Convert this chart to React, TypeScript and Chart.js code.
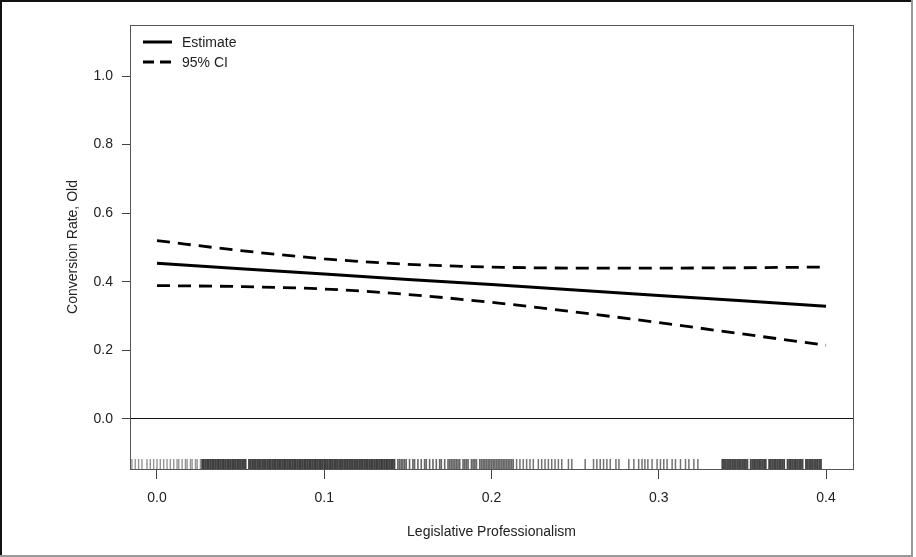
import React, { useEffect, useRef } from "react";
import { Chart, registerables } from "chart.js";

Chart.register(...registerables);

// ---- data ----
const xGrid = [0, 0.05, 0.1, 0.15, 0.2, 0.25, 0.3, 0.35, 0.4];
const estimate = [0.454, 0.438, 0.423, 0.407, 0.392, 0.376, 0.36, 0.345, 0.329];
const upperCI = [0.52, 0.491, 0.467, 0.451, 0.443, 0.44, 0.44, 0.441, 0.443];
const lowerCI = [0.389, 0.386, 0.379, 0.363, 0.34, 0.312, 0.281, 0.248, 0.215];

const xTicks = [0, 0.1, 0.2, 0.3, 0.4];
const yTicks = [0, 0.2, 0.4, 0.6, 0.8, 1.0];

const legendLabels = ["Estimate", "95% CI"];

const rugLight = [
  -0.015, -0.013, -0.011, -0.009, -0.006, -0.004, -0.002, 0.0, 0.002, 0.004, 0.006, 0.008,
  0.01, 0.012, 0.013, 0.015, 0.017, 0.018, 0.02, 0.021, 0.023, 0.024, 0.026,
];
const rugDense = [
  0.027, 0.028, 0.029, 0.03, 0.031, 0.032, 0.033, 0.034, 0.035, 0.036, 0.037, 0.038, 0.039,
  0.04, 0.041, 0.042, 0.043, 0.044, 0.045, 0.046, 0.047, 0.048, 0.049, 0.05, 0.051, 0.052,
  0.053, 0.055, 0.056, 0.057, 0.058, 0.059, 0.06, 0.061, 0.062, 0.063, 0.064, 0.065, 0.066,
  0.067, 0.068, 0.069, 0.07, 0.071, 0.072, 0.073, 0.074, 0.075, 0.076, 0.077, 0.078, 0.079,
  0.08, 0.081, 0.082, 0.083, 0.084, 0.085, 0.086, 0.087, 0.088, 0.089, 0.09, 0.091, 0.092,
  0.093, 0.094, 0.095, 0.096, 0.097, 0.098, 0.099, 0.1, 0.101, 0.102, 0.103, 0.104, 0.105,
  0.106, 0.107, 0.108, 0.109, 0.11, 0.111, 0.112, 0.113, 0.114, 0.115, 0.116, 0.117, 0.118,
  0.119, 0.12, 0.121, 0.122, 0.123, 0.124, 0.125, 0.126, 0.127, 0.128, 0.129, 0.13, 0.131,
  0.132, 0.133, 0.134, 0.135, 0.136, 0.137, 0.138, 0.139, 0.14, 0.141, 0.142,
];
const rugMid = [
  0.144, 0.145, 0.146, 0.147, 0.148, 0.149, 0.151, 0.153, 0.154, 0.156, 0.158, 0.16, 0.161,
  0.163, 0.165, 0.167, 0.169, 0.17, 0.172, 0.174, 0.175, 0.176, 0.177, 0.178, 0.179, 0.18,
  0.181, 0.183, 0.184, 0.185, 0.186, 0.188, 0.189, 0.19, 0.191, 0.193, 0.194, 0.195, 0.196,
  0.197, 0.198, 0.199, 0.2, 0.201, 0.202, 0.203, 0.204, 0.205, 0.206, 0.207, 0.208, 0.209,
  0.21, 0.211, 0.212, 0.213,
];
const rugSparse = [
  0.215, 0.217, 0.219, 0.221, 0.223, 0.225, 0.228, 0.23, 0.232, 0.234, 0.236, 0.238, 0.24,
  0.242, 0.246, 0.248, 0.256, 0.261, 0.263, 0.265, 0.267, 0.269, 0.271, 0.2744, 0.2762,
  0.2821, 0.2851, 0.288, 0.29, 0.2917, 0.2935, 0.296, 0.299, 0.301, 0.303, 0.305, 0.308,
  0.31, 0.313, 0.316, 0.318, 0.321, 0.3234,
];
const rugHigh = [
  0.338, 0.339, 0.34, 0.341, 0.342, 0.343, 0.344, 0.345, 0.346, 0.347, 0.348, 0.349, 0.35,
  0.351, 0.352, 0.353, 0.355, 0.356, 0.357, 0.358, 0.359, 0.36, 0.361, 0.362, 0.363, 0.364,
  0.366, 0.367, 0.368, 0.369, 0.37, 0.371, 0.372, 0.373, 0.374, 0.375, 0.377, 0.378, 0.379,
  0.38, 0.381, 0.382, 0.383, 0.384, 0.385, 0.386, 0.388, 0.389, 0.39, 0.391, 0.392, 0.393,
  0.394, 0.395, 0.396, 0.397,
];

const X_MIN = -0.01614;
const X_MAX = 0.41614;
const Y_MIN = -0.1458;
const Y_MAX = 1.1487;

const FONT = "'Liberation Sans', Arial, Helvetica, sans-serif";
const TEXT = "#222";

const decorPlugin = {
  id: "decor",
  beforeDraw(chart: any) {
    const ctx = chart.ctx;
    ctx.save();
    ctx.fillStyle = "#fff";
    ctx.fillRect(0, 0, chart.width, chart.height);
    ctx.restore();
  },
  afterDraw(chart: any) {
    const ctx = chart.ctx;
    const a = chart.chartArea;
    const xs = chart.scales.x;
    ctx.save();
    // rug
    const drawRug = (vals: number[], color: string, w: number) => {
      ctx.strokeStyle = color;
      ctx.lineWidth = w;
      for (const v of vals) {
        const px = xs.getPixelForValue(v);
        ctx.beginPath();
        ctx.moveTo(px, a.bottom);
        ctx.lineTo(px, a.bottom - 10);
        ctx.stroke();
      }
    };
    drawRug(rugLight, "rgba(0,0,0,0.42)", 1.4);
    drawRug(rugDense, "rgba(0,0,0,0.75)", 1.8);
    drawRug(rugMid, "rgba(0,0,0,0.6)", 1.6);
    drawRug(rugSparse, "rgba(0,0,0,0.55)", 1.5);
    drawRug(rugHigh, "rgba(0,0,0,0.72)", 1.8);
    // plot box
    ctx.strokeStyle = "#555";
    ctx.lineWidth = 1;
    ctx.strokeRect(Math.round(a.left) + 0.5, Math.round(a.top) + 0.5, Math.round(a.right - a.left), Math.round(a.bottom - a.top));
    // legend
    const dashes = [[], [11, 6]];
    legendLabels.forEach((lab, i) => {
      const y = a.top + 17 + i * 20;
      ctx.strokeStyle = "#000";
      ctx.lineWidth = 3;
      ctx.setLineDash(dashes[i]);
      ctx.beginPath();
      ctx.moveTo(a.left + 13, y);
      ctx.lineTo(a.left + 42, y);
      ctx.stroke();
      ctx.setLineDash([]);
      ctx.fillStyle = TEXT;
      ctx.font = `14px ${FONT}`;
      ctx.textBaseline = "middle";
      ctx.textAlign = "left";
      ctx.fillText(lab, a.left + 52, y + 1);
    });
    // outer frame
    ctx.fillStyle = "#111";
    ctx.fillRect(0, 0, 2, chart.height);
    ctx.fillRect(0, 0, 913, 2);
    ctx.fillStyle = "#999";
    ctx.fillRect(911, 0, 2, chart.height);
    ctx.fillRect(0, chart.height - 2, 913, 2);
    ctx.restore();
  },
};

export default function App() {
  const ref = useRef<HTMLCanvasElement>(null);
  useEffect(() => {
    if (!ref.current) return;
    const pts = (ys: number[]) => xGrid.map((x, i) => ({ x, y: ys[i] }));
    const chart = new Chart(ref.current, {
      type: "line",
      data: {
        datasets: [
          {
            label: "Estimate",
            data: pts(estimate),
            borderColor: "#000",
            borderWidth: 3,
            pointRadius: 0,
            fill: false,
          },
          {
            label: "95% CI upper",
            data: pts(upperCI),
            borderColor: "#000",
            borderWidth: 2.8,
            borderDash: [13, 8],
            pointRadius: 0,
            cubicInterpolationMode: "monotone",
            fill: false,
          },
          {
            label: "95% CI lower",
            data: pts(lowerCI),
            borderColor: "#000",
            borderWidth: 2.8,
            borderDash: [13, 8],
            pointRadius: 0,
            cubicInterpolationMode: "monotone",
            fill: false,
          },
        ],
      },
      options: {
        animation: false,
        responsive: false,
        devicePixelRatio: 1,
        layout: { padding: { left: 0, top: 25, right: 63, bottom: 0 } },
        plugins: { legend: { display: false }, tooltip: { enabled: false } },
        scales: {
          x: {
            type: "linear",
            min: X_MIN,
            max: X_MAX,
            afterBuildTicks: (s: any) => {
              s.ticks = xTicks.map((v) => ({ value: v }));
            },
            afterFit: (s: any) => {
              s.height = 88;
            },
            ticks: {
              font: { size: 14, family: FONT },
              color: TEXT,
              padding: 11,
              maxRotation: 0,
              autoSkip: false,
              callback: (v: any) => Number(v).toFixed(1),
            },
            grid: { drawOnChartArea: false, drawTicks: true, tickLength: 10, tickColor: "#444" },
            border: { display: true, color: "#555" },
            title: {
              display: true,
              text: "Legislative Professionalism",
              font: { size: 14, family: FONT },
              color: TEXT,
              padding: { top: 0, bottom: 16 },
            },
          },
          y: {
            type: "linear",
            min: Y_MIN,
            max: Y_MAX,
            afterBuildTicks: (s: any) => {
              s.ticks = yTicks.map((v) => ({ value: v }));
            },
            afterFit: (s: any) => {
              s.width = 130;
            },
            ticks: {
              font: { size: 14, family: FONT },
              color: TEXT,
              padding: 9,
              autoSkip: false,
              callback: (v: any) => Number(v).toFixed(1),
            },
            grid: {
              drawOnChartArea: true,
              drawTicks: true,
              tickLength: 8,
              tickColor: "#444",
              lineWidth: 1,
              color: (c: any) => (c.tick && c.tick.value === 0 ? "#111" : "rgba(0,0,0,0)"),
            },
            border: { display: true, color: "#555" },
            title: {
              display: true,
              text: "Conversion Rate, Old",
              font: { size: 14, family: FONT },
              color: TEXT,
              padding: { top: 65, bottom: 0 },
            },
          },
        },
      },
      plugins: [decorPlugin],
    });
    return () => chart.destroy();
  }, []);
  return (
    <div style={{ position: "fixed", left: 0, top: 0, width: 916, height: 557, background: "#fff" }}>
      <canvas ref={ref} width={916} height={557} style={{ display: "block", width: 916, height: 557 }} />
    </div>
  );
}
